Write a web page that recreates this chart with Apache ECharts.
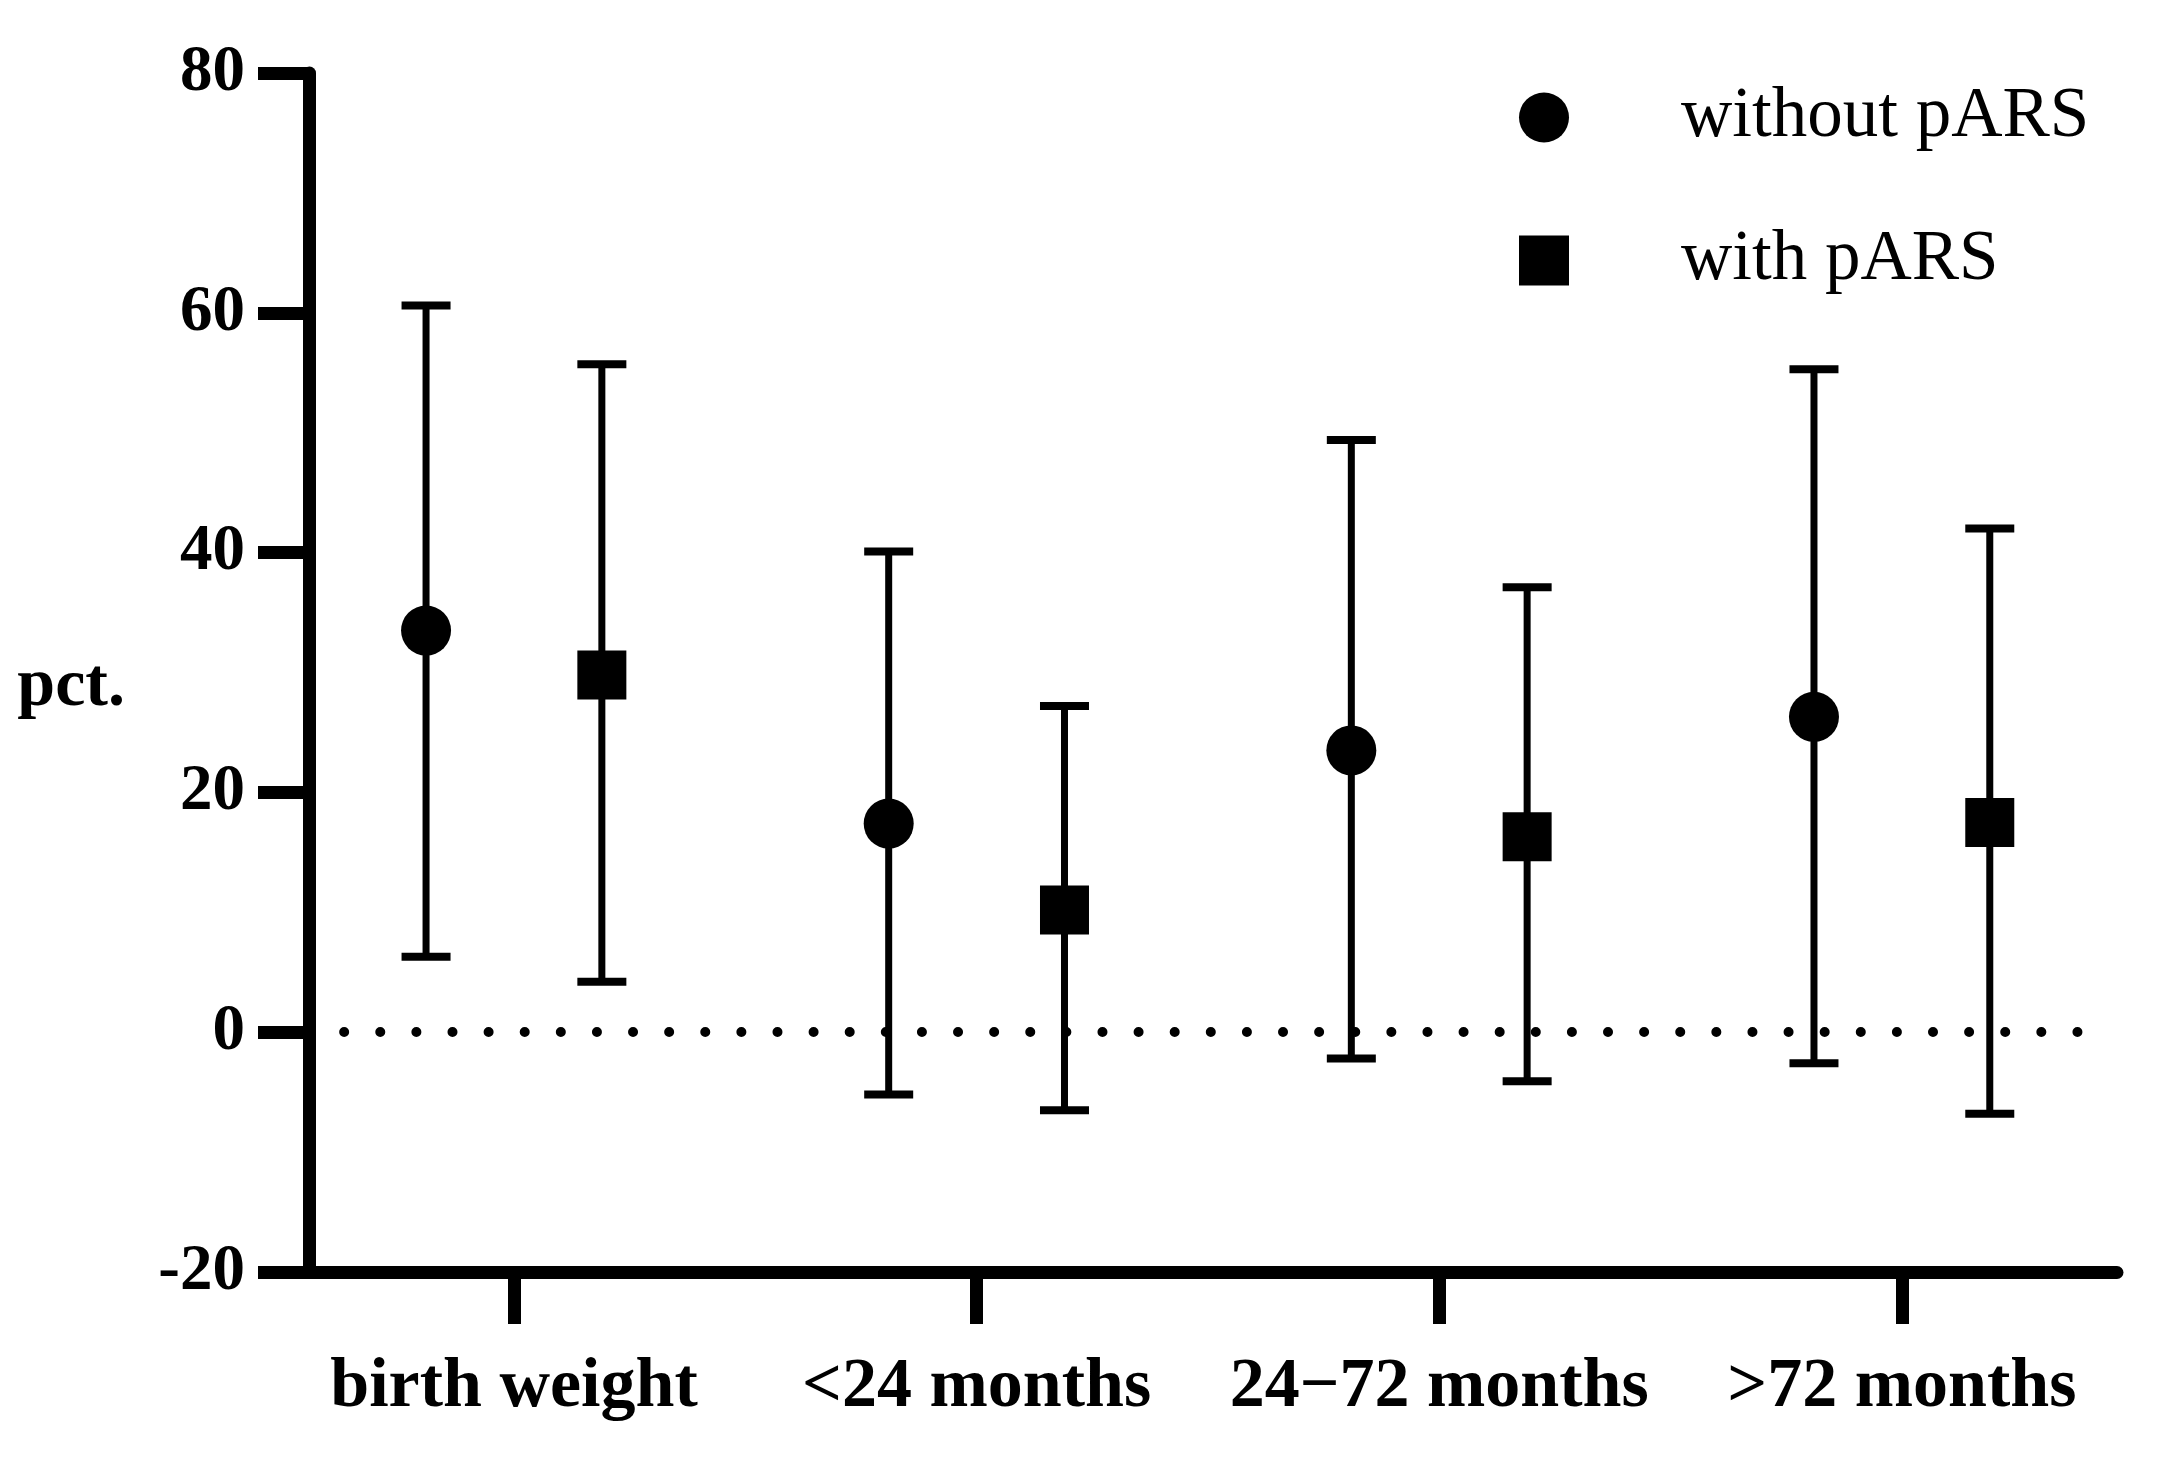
<!DOCTYPE html>
<html><head><meta charset="utf-8">
<script src="https://cdn.jsdelivr.net/npm/echarts@6/dist/echarts.min.js"></script>
<style>html,body{margin:0;padding:0;background:#fff}#c{width:2177px;height:1469px}</style>
</head><body><div id="c"></div>
<script>
const categories = ['birth weight', '<24 months', '24\u221272 months', '>72 months'];
const categoryPositions = [1, 2, 3, 4];
const yTickMin = -20, yTickMax = 80, yTickStep = 20;
const seriesNames = ['without pARS', 'with pARS'];
const withoutMean = [33.5, 17.4, 23.5, 26.3];
const withoutLow  = [6.3, -5.2, -2.2, -2.6];
const withoutHigh = [60.6, 40.1, 49.4, 55.3];
const withMean = [29.8, 10.2, 16.3, 17.5];
const withLow  = [4.2, -6.5, -4.1, -6.8];
const withHigh = [55.7, 27.2, 37.1, 42.0];
const referenceValue = 0;
const referenceFrom = 0.633, referenceTo = 4.38;

const OFFSET = 0.19;
const FONT = '"Liberation Serif", "Times New Roman", serif';

function pts(mean, sign) { return mean.map((v, i) => [categoryPositions[i] + sign * OFFSET, v]); }
function errs(lo, hi, sign) { return lo.map((l, i) => [categoryPositions[i] + sign * OFFSET, l, hi[i]]); }

function renderErr(params, api) {
  const x = api.value(0), lo = api.value(1), hi = api.value(2);
  const a = api.coord([x, lo]), b = api.coord([x, hi]);
  const h = 24.5;
  const st = { stroke: '#000', lineWidth: 7, fill: null };
  const cap = { stroke: '#000', lineWidth: 8, fill: null };
  return { type: 'group', children: [
    { type: 'line', shape: { x1: a[0], y1: a[1], x2: b[0], y2: b[1] }, style: st },
    { type: 'line', shape: { x1: b[0] - h, y1: b[1], x2: b[0] + h, y2: b[1] }, style: cap },
    { type: 'line', shape: { x1: a[0] - h, y1: a[1], x2: a[0] + h, y2: a[1] }, style: cap }
  ]};
}

const chart = echarts.init(document.getElementById('c'), null, { renderer: 'canvas' });
chart.setOption({
  backgroundColor: '#fff',
  animation: false,
  grid: { left: 309, right: 60, top: 73, bottom: 197, containLabel: false },
  legend: {
    orient: 'vertical', left: 1514, top: 77,
    itemWidth: 50, itemHeight: 50, itemGap: 72,
    data: [{ name: seriesNames[0], icon: 'circle' }, { name: seriesNames[1], icon: 'rect' }],
    textStyle: { fontFamily: FONT, fontSize: 71, color: '#000', padding: [0, 0, 0, 107] },
    selectedMode: false
  },
  xAxis: {
    type: 'value', min: 0.557, max: 4.465,
    axisLine: { show: true, onZero: false, lineStyle: { color: '#000', width: 13 } },
    axisTick: { show: true, customValues: categoryPositions, length: 52, lineStyle: { color: '#000', width: 13 } },
    axisLabel: { show: true, customValues: categoryPositions, formatter: v => categories[Math.round(v) - 1] || '',
      fontFamily: FONT, fontSize: 70, fontWeight: 'bold', color: '#000', margin: 81 },
    splitLine: { show: false }
  },
  yAxis: {
    type: 'value', min: yTickMin, max: yTickMax, interval: yTickStep,
    name: '{p|pct.}', nameLocation: 'middle', nameRotate: 0, nameGap: 184,
    nameTextStyle: { fontFamily: FONT, fontSize: 68, fontWeight: 'bold', color: '#000', align: 'right',
      rich: { p: { fontFamily: FONT, fontSize: 68, fontWeight: 'bold', color: '#000', padding: [30, 0, 0, 0] } } },
    axisLine: { show: true, onZero: false, lineStyle: { color: '#000', width: 13 } },
    axisTick: { show: true, length: 51, lineStyle: { color: '#000', width: 13 } },
    axisLabel: { fontFamily: FONT, fontSize: 65, fontWeight: 'bold', color: '#000', margin: 64 },
    splitLine: { show: false }
  },
  series: [
    { type: 'custom', name: 'err-without', renderItem: renderErr, data: errs(withoutLow, withoutHigh, -1),
      encode: { x: 0, y: [1, 2] }, z: 2, silent: true,
      markLine: { silent: true, symbol: 'none', label: { show: false },
        lineStyle: { color: '#000', width: 10, type: [0.01, 36.1], cap: 'round' },
        data: [[{ coord: [referenceFrom, referenceValue] }, { coord: [referenceTo, referenceValue] }]] } },
    { type: 'custom', name: 'err-with', renderItem: renderErr, data: errs(withLow, withHigh, 1),
      encode: { x: 0, y: [1, 2] }, z: 2, silent: true },
    { type: 'scatter', name: seriesNames[0], symbol: 'circle', symbolSize: 50, data: pts(withoutMean, -1),
      itemStyle: { color: '#000', opacity: 1 }, z: 5 },
    { type: 'scatter', name: seriesNames[1], symbol: 'rect', symbolSize: 49, data: pts(withMean, 1),
      itemStyle: { color: '#000', opacity: 1 }, z: 5 }
  ]
});
</script>
</body></html>
